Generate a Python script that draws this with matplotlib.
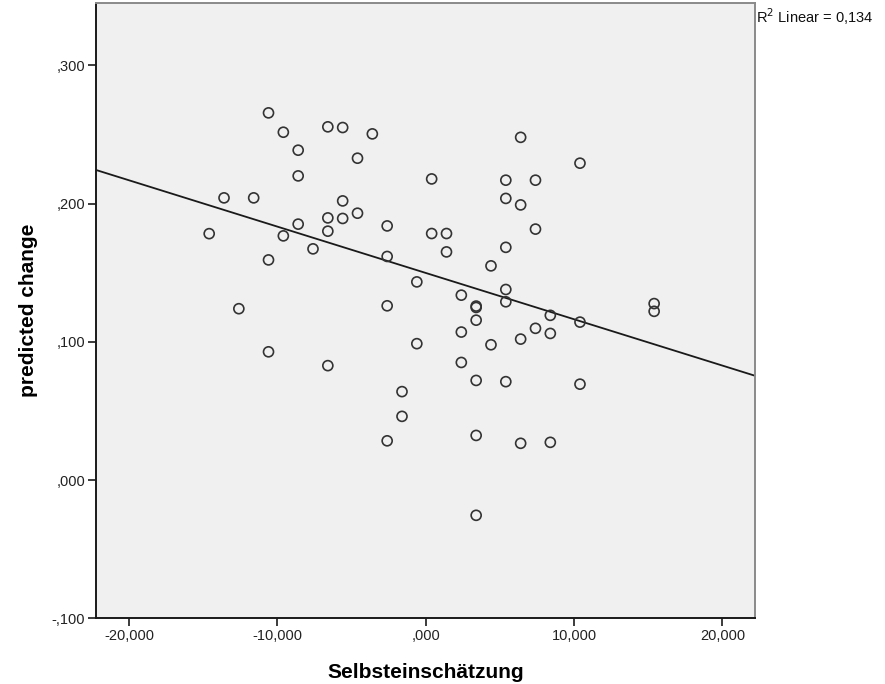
import matplotlib
matplotlib.use("Agg")
import matplotlib.pyplot as plt
import numpy as np
from matplotlib.ticker import FuncFormatter

# Data (x in raw units, y values)
x_vals = [
    -14600, -13600, -12600, -11600,
    -10600, -10600, -10600,
    -9600, -9600,
    -8600, -8600, -8600,
    -7600,
    -6600, -6600, -6600, -6600,
    -5600, -5600, -5600,
    -4600, -4600,
    -3600,
    -2600, -2600, -2600, -2600,
    -1600, -1600,
    -600, -600,
    400, 400,
    1400, 1400,
    2400, 2400, 2400,
    3400, 3400, 3400, 3400, 3400, 3400,
    4400, 4400,
    5400, 5400, 5400, 5400, 5400, 5400,
    6400, 6400, 6400, 6400,
    7400, 7400, 7400,
    8400, 8400, 8400,
    10400, 10400, 10400,
    15400, 15400,
]
y_vals = [
    0.1783, 0.2042, 0.1240, 0.2042,
    0.2657, 0.1593, 0.0928,
    0.2517, 0.1767,
    0.2387, 0.2201, 0.1852,
    0.1673,
    0.2556, 0.1897, 0.1801, 0.0828,
    0.2551, 0.2020, 0.1893,
    0.2329, 0.1931,
    0.2505,
    0.1839, 0.1618, 0.1261, 0.0284,
    0.0640, 0.0461,
    0.1434, 0.0987,
    0.2179, 0.1784,
    0.1784, 0.1651,
    0.1338, 0.1071, 0.0851,
    0.1259, 0.1249, 0.1157, 0.0721, 0.0323, -0.0255,
    0.1550, 0.0979,
    0.2170, 0.2038, 0.1684, 0.1379, 0.1290, 0.0712,
    0.2480, 0.1991, 0.1020, 0.0266,
    0.2170, 0.1816, 0.1098,
    0.1192, 0.1061, 0.0273,
    0.2293, 0.1143, 0.0694,
    0.1277, 0.1221,
]
x_ticks = [-20000, -10000, 0, 10000, 20000]
y_ticks = [-0.1, 0.0, 0.1, 0.2, 0.3]
r2_label = "R$^2$ Linear = 0,134"
x_label = "Selbsteinschätzung"
y_label = "predicted change"

plt.rcParams['font.family'] = ['Liberation Sans', 'DejaVu Sans']

fig = plt.figure(figsize=(8.85, 6.84), dpi=100)
ax = fig.add_axes([0.109, 0.0961, 0.8531 - 0.109, 0.9952 - 0.0961])
ax.set_facecolor('#F0F0F0')

x = np.array(x_vals, dtype=float)
y = np.array(y_vals, dtype=float)

xlim = (-22200, 22200)
ylim = (-0.1, 0.345)

slope, intercept = np.polyfit(x, y, 1)
lx = np.array(xlim)
ax.plot(lx, intercept + slope * lx, color='#1a1a1a', lw=1.3, zorder=2)

ax.scatter(x, y, s=52, facecolors='none', edgecolors='#333333', linewidths=1.2, zorder=3)

ax.set_xlim(*xlim)
ax.set_ylim(*ylim)
ax.set_xticks(x_ticks)
ax.set_yticks(y_ticks)

def fmt_x(v, pos):
    if abs(v) < 1e-9:
        return ",000"
    s = f"{abs(v)/1000:.3f}".replace('.', ',')
    return ("-" if v < 0 else "") + s

def fmt_y(v, pos):
    s = f"{abs(v):.3f}"
    if s.startswith("0"):
        s = s[1:]
    s = s.replace('.', ',')
    return ("-" if v < -1e-9 else "") + s

ax.xaxis.set_major_formatter(FuncFormatter(fmt_x))
ax.yaxis.set_major_formatter(FuncFormatter(fmt_y))
ax.tick_params(axis='both', direction='out', length=6, width=1.2, color='#1a1a1a',
               labelsize=10.5, labelcolor='#222222', pad=2)

for s in ['left', 'bottom']:
    ax.spines[s].set_color('#1a1a1a')
    ax.spines[s].set_linewidth(1.4)
for s in ['top', 'right']:
    ax.spines[s].set_color('#8a8a8a')
    ax.spines[s].set_linewidth(1.4)

ax.set_xlabel(x_label, fontsize=15, fontweight='bold', labelpad=14)
ax.set_ylabel(y_label, fontsize=15, fontweight='bold', labelpad=10)

fig.text(0.8531 + 0.001, 0.975, r2_label, fontsize=10.5, ha='left', va='center', color='#111111')

fig.savefig("out.png", dpi=100)
